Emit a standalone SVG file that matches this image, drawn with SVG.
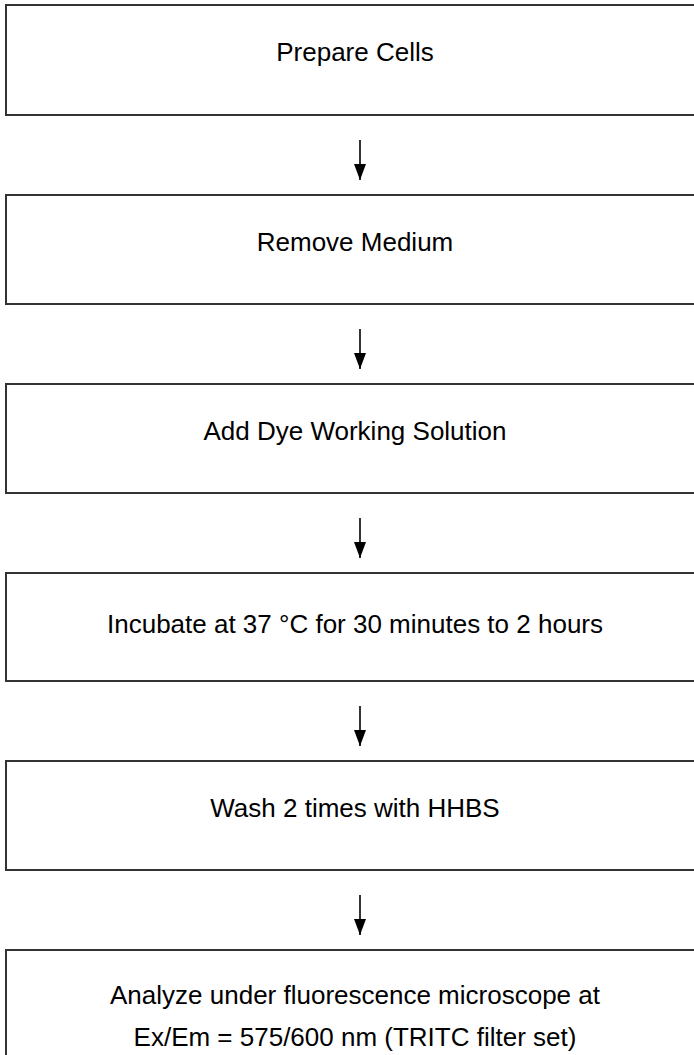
<svg xmlns="http://www.w3.org/2000/svg" width="694" height="1055" viewBox="0 0 694 1055">
  <style>
    .step { fill: #ffffff; stroke: #333333; stroke-width: 2; }
    .label { font-family: "Liberation Sans", Arial, sans-serif; font-size: 26px; fill: #000000; text-anchor: middle; }
    .link { stroke: #000000; stroke-width: 1.6; fill: none; }
  </style>
  <defs>
    <!-- arrowhead drawn along +x so orient="auto" turns it to follow the line -->
    <marker id="head" markerWidth="16" markerHeight="12" refX="16" refY="6" orient="auto" markerUnits="userSpaceOnUse" viewBox="0 0 16 12">
      <path d="M0,0 L16,6 L0,12 Z" fill="#000000"/>
    </marker>
  </defs>
  <rect width="694" height="1055" fill="#ffffff"/>

  <g id="prepare-cells">
    <rect class="step" x="6" y="5" width="708" height="110"/>
    <text class="label" x="355" y="61">Prepare Cells</text>
  </g>
  <g id="remove-medium">
    <rect class="step" x="6" y="195" width="708" height="109"/>
    <text class="label" x="355" y="251">Remove Medium</text>
  </g>
  <g id="add-dye">
    <rect class="step" x="6" y="384" width="708" height="109"/>
    <text class="label" x="355" y="440">Add Dye Working Solution</text>
  </g>
  <g id="incubate">
    <rect class="step" x="6" y="573" width="708" height="108"/>
    <text class="label" x="355" y="633">Incubate at 37 °C for 30 minutes to 2 hours</text>
  </g>
  <g id="wash">
    <rect class="step" x="6" y="761" width="708" height="109"/>
    <text class="label" x="355" y="817">Wash 2 times with HHBS</text>
  </g>
  <g id="analyze">
    <rect class="step" x="6" y="950" width="708" height="120"/>
    <text class="label" x="355" y="1004">Analyze under fluorescence microscope at</text>
    <text class="label" x="355" y="1046">Ex/Em = 575/600 nm (TRITC filter set)</text>
  </g>

  <g id="connectors">
    <line class="link" x1="360" y1="140" x2="360" y2="180" marker-end="url(#head)"/>
    <line class="link" x1="360" y1="329" x2="360" y2="369" marker-end="url(#head)"/>
    <line class="link" x1="360" y1="518" x2="360" y2="558" marker-end="url(#head)"/>
    <line class="link" x1="360" y1="706" x2="360" y2="746" marker-end="url(#head)"/>
    <line class="link" x1="360" y1="895" x2="360" y2="935" marker-end="url(#head)"/>
  </g>
</svg>
